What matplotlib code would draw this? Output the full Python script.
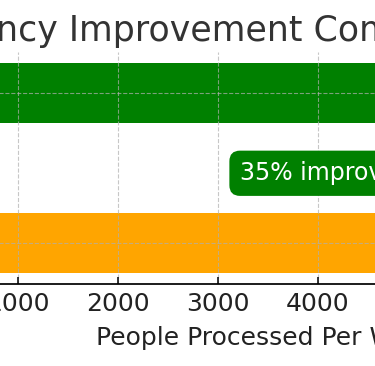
import matplotlib.pyplot as plt

# Data
categories = ['Before', 'After']
people_per_week = [4930, 6655]
bar_colors = ['orange', 'green']
improvement_label = '35% improvement'

fig = plt.figure(figsize=(3.75, 3.66), dpi=100)

xmax = max(people_per_week) * 1.05
px_per_unit = 0.1
left_px = -82
width_px = xmax * px_per_unit
ax = fig.add_axes([left_px / 375, 0.224, width_px / 375, 0.634])

ax.barh(categories, people_per_week, color=bar_colors, height=0.4)
ax.set_xlim(0, xmax)

title_x = (206 - left_px) / width_px
ax.set_title('Efficiency Improvement Comparison', fontsize=25, color='#333333', x=title_x, pad=8)
ax.set_xlabel('People Processed Per Week', fontsize=18, color='#222222', labelpad=7.5)
ax.tick_params(axis='x', labelsize=18, direction='in', length=5, width=1.1, pad=5.5,
               labelcolor='#222222')
ax.tick_params(axis='y', labelsize=17)
ax.set_xticks([1000, 2000, 3000, 4000, 5000, 6000])
ax.grid(True, linestyle='--', alpha=0.7)

for side in ['top', 'right', 'left']:
    ax.spines[side].set_visible(False)
ax.spines['bottom'].set_linewidth(1.25)

ax.text(3220, 0.465, improvement_label, fontsize=17, color='white',
        ha='left', va='center',
        bbox=dict(boxstyle='round,pad=0.45', facecolor='green', edgecolor='none'))

fig.savefig('out.png', dpi=100)
